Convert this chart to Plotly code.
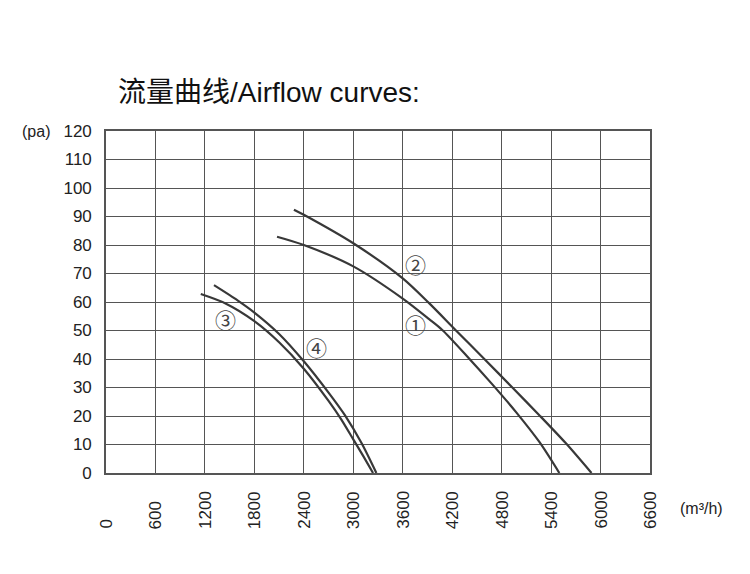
import plotly.graph_objects as go

# ---- data (flow m³/h, pressure Pa) ----
flow_1 = [2075, 2400, 3000, 3600, 3920, 4080, 4380, 4690, 4980, 5260, 5500]
pres_1 = [82.9, 80.0, 72.5, 61.2, 54.0, 50.2, 41.0, 31.0, 21.2, 10.8, 0.0]

flow_2 = [2280, 2400, 3000, 3600, 3920, 4240, 4590, 4930, 5260, 5580, 5890]
pres_2 = [92.4, 90.6, 80.6, 68.3, 59.6, 50.2, 40.0, 30.0, 20.2, 10.4, 0.0]

flow_3 = [1150, 1450, 1800, 2100, 2400, 2700, 2850, 3000, 3120, 3240]
pres_3 = [62.8, 59.5, 53.3, 45.9, 36.6, 25.3, 19.0, 11.8, 6.0, 0.0]

flow_4 = [1310, 1600, 1800, 2100, 2400, 2700, 2900, 3100, 3280]
pres_4 = [65.9, 60.5, 56.3, 48.8, 39.2, 28.2, 20.2, 10.5, 0.0]

curve_labels = ["①", "②", "③", "④"]
label_flow = [3756, 3756, 1448, 2558]
label_pres = [52.3, 73.2, 53.9, 44.2]

x_ticks = [0, 600, 1200, 1800, 2400, 3000, 3600, 4200, 4800, 5400, 6000, 6600]
y_ticks = [0, 10, 20, 30, 40, 50, 60, 70, 80, 90, 100, 110, 120]

title_text = "流量曲线/Airflow curves:"
y_unit = "(pa)"
x_unit = "(m³/h)"

FONT = "Liberation Sans, Arial, Noto Sans CJK SC, sans-serif"
CURVE_COLOR = "#383838"
GRID_COLOR = "#555555"

# page has an 8px body margin; figure is sized to fit the 750x574 window
W, H = 742, 566
ML, MR, MT, MB = 98, 100, 123, 101
PW, PH = W - ML - MR, H - MT - MB

fig = go.Figure()
for fx, py in [(flow_1, pres_1), (flow_2, pres_2), (flow_3, pres_3), (flow_4, pres_4)]:
    fig.add_trace(go.Scatter(
        x=fx, y=py, mode="lines",
        line=dict(color=CURVE_COLOR, width=2.2, shape="spline", smoothing=0.8),
        showlegend=False, hoverinfo="x+y", cliponaxis=False,
    ))

annotations = []
for lab, lx, ly in zip(curve_labels, label_flow, label_pres):
    annotations.append(dict(
        x=lx, y=ly, xref="x", yref="y", text=lab, showarrow=False,
        font=dict(family="Noto Sans CJK SC, DejaVu Sans", size=21, color="#444444"),
    ))

for v in x_ticks:
    annotations.append(dict(
        x=v, y=0, xref="x", yref="y", yshift=-58, text=str(v), showarrow=False,
        textangle=-90, xanchor="center", yanchor="bottom",
        font=dict(family=FONT, size=17, color="#222222"),
    ))

annotations.append(dict(
    x=(12 - ML) / PW, y=1.0, xref="paper", yref="paper", text=y_unit,
    showarrow=False, xanchor="left", yanchor="middle",
    font=dict(family=FONT, size=16, color="#222222"),
))
annotations.append(dict(
    x=(670 - ML) / PW, y=-35 / PH, xref="paper", yref="paper", text=x_unit,
    showarrow=False, xanchor="left", yanchor="middle",
    font=dict(family=FONT, size=16, color="#222222"),
))

fig.update_layout(
    width=W, height=H,
    margin=dict(l=ML, r=MR, t=MT, b=MB),
    paper_bgcolor="white", plot_bgcolor="white",
    title=dict(
        text=title_text, x=110 / W, xanchor="left", xref="container",
        y=1 - 84 / H, yanchor="middle", yref="container",
        font=dict(family=FONT, size=28, color="#111111"),
    ),
    annotations=annotations,
    xaxis=dict(
        range=[0, 6600], tickvals=x_ticks, showticklabels=False,
        showgrid=True, gridcolor=GRID_COLOR, gridwidth=1.4,
        showline=True, linecolor=GRID_COLOR, linewidth=1.6, mirror=True,
        zeroline=False, ticks="",
    ),
    yaxis=dict(
        range=[0, 120], tickvals=y_ticks, ticktext=[str(t) for t in y_ticks],
        showgrid=True, gridcolor=GRID_COLOR, gridwidth=1.4,
        showline=True, linecolor=GRID_COLOR, linewidth=1.6, mirror=True,
        zeroline=False, ticks="", ticklabelstandoff=9,
        tickfont=dict(family=FONT, size=17, color="#222222"),
    ),
)

fig.write_html("out.html")
